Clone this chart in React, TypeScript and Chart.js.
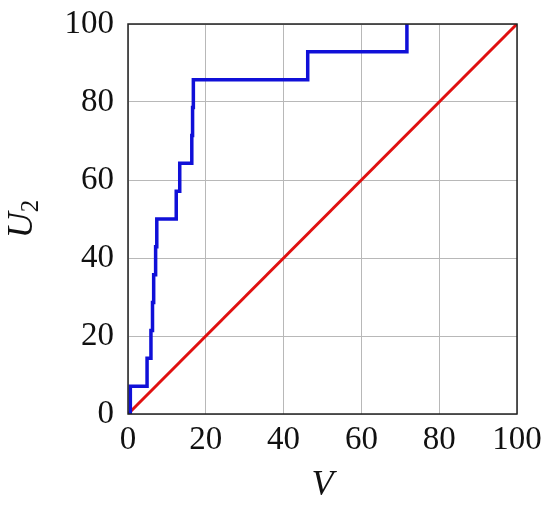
import React, { useEffect, useRef } from "react";
import { Chart, registerables } from "chart.js";

Chart.register(...registerables);

const stepV = [0, 0.6, 4.9, 5.9, 6.3, 6.6, 7.1, 7.4, 12.4, 13.3, 16.4, 16.6, 16.8, 46.2, 71.7];
const stepU = [0, 7.14, 14.29, 21.43, 28.57, 35.71, 42.86, 50, 57.14, 64.29, 71.43, 78.57, 85.71, 92.86, 100];
const diagV = [0, 100];
const diagU = [0, 100];
const tickValues = [0, 20, 40, 60, 80, 100];
const xTitle = "V";
const yTitleMain = "U";
const yTitleSub = "2";

const FONT = "'Liberation Serif', 'DejaVu Serif', serif";

export default function App() {
  const ref = useRef<HTMLCanvasElement | null>(null);
  useEffect(() => {
    const canvas = ref.current;
    if (!canvas) return;
    const framePlugin = {
      id: "frame",
      afterDatasetsDraw(chart: any) {
        const { ctx, chartArea } = chart;
        ctx.save();
        ctx.strokeStyle = "#222";
        ctx.lineWidth = 1.5;
        ctx.strokeRect(chartArea.left, chartArea.top, chartArea.right - chartArea.left, chartArea.bottom - chartArea.top);
        ctx.restore();
      },
      afterDraw(chart: any) {
        const { ctx, chartArea } = chart;
        ctx.save();
        ctx.fillStyle = "#111";
        ctx.textAlign = "center";
        ctx.textBaseline = "middle";
        ctx.font = `italic 36px ${FONT}`;
        ctx.fillText(xTitle, (chartArea.left + chartArea.right) / 2, chartArea.bottom + 72);
        ctx.translate(23, (chartArea.top + chartArea.bottom) / 2);
        ctx.rotate(-Math.PI / 2);
        ctx.textAlign = "left";
        ctx.font = `italic 36px ${FONT}`;
        const w = ctx.measureText(yTitleMain).width;
        ctx.font = `25px ${FONT}`;
        const w2 = ctx.measureText(yTitleSub).width;
        const total = w + w2;
        ctx.font = `italic 36px ${FONT}`;
        ctx.fillText(yTitleMain, -total / 2, 0);
        ctx.font = `25px ${FONT}`;
        ctx.fillText(yTitleSub, -total / 2 + w, 8);
        ctx.restore();
      },
    };
    const chart = new Chart(canvas, {
      type: "scatter",
      data: {
        datasets: [
          {
            data: diagV.map((v, i) => ({ x: v, y: diagU[i] })),
            showLine: true,
            borderColor: "#e01010",
            borderWidth: 3,
            pointRadius: 0,
            order: 2,
          },
          {
            data: stepV.map((v, i) => ({ x: v, y: stepU[i] })),
            showLine: true,
            stepped: "before",
            borderColor: "#1010d8",
            borderWidth: 3.5,
            pointRadius: 0,
            order: 1,
          },
        ],
      },
      plugins: [framePlugin],
      options: {
        animation: false,
        responsive: false,
        maintainAspectRatio: false,
        layout: { padding: { left: 0, right: 33, top: 24, bottom: 0 } },
        plugins: { legend: { display: false }, tooltip: { enabled: false } },
        scales: {
          x: {
            type: "linear",
            min: 0,
            max: 100,
            afterBuildTicks: (s: any) => { s.ticks = tickValues.map((v) => ({ value: v })); },
            afterFit: (s: any) => { s.height = 99; s.paddingLeft = 0; s.paddingRight = 0; },
            grid: { color: "#b8b8b8", lineWidth: 1, drawTicks: false },
            border: { display: false },
            ticks: { color: "#111", font: { family: FONT, size: 33, lineHeight: 1 }, padding: 10, maxRotation: 0 },
          },
          y: {
            type: "linear",
            min: 0,
            max: 100,
            afterBuildTicks: (s: any) => { s.ticks = tickValues.map((v) => ({ value: v })); },
            afterFit: (s: any) => { s.width = 128; s.paddingTop = 0; s.paddingBottom = 0; },
            grid: { color: "#b8b8b8", lineWidth: 1, drawTicks: false },
            border: { display: false },
            ticks: { color: "#111", font: { family: FONT, size: 33, lineHeight: 1 }, padding: 14 },
          },
        },
      },
    });
    return () => chart.destroy();
  }, []);
  return (
    <div style={{ position: "fixed", left: 0, top: 0, width: 550, height: 513, background: "#fff" }}>
      <canvas ref={ref} width={550} height={513} style={{ width: 550, height: 513 }} />
    </div>
  );
}
